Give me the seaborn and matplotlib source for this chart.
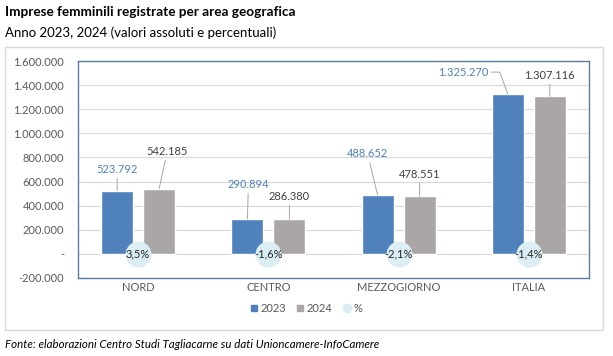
import matplotlib
matplotlib.use('Agg')
import matplotlib.pyplot as plt
from matplotlib.patches import Rectangle
from matplotlib.lines import Line2D
from matplotlib.ticker import FuncFormatter, MultipleLocator
import seaborn as sns
import pandas as pd

# dati
aree = ['NORD', 'CENTRO', 'MEZZOGIORNO', 'ITALIA']
anni = ['2023', '2024']
valori_2023 = [523792, 290894, 488652, 1325270]
valori_2024 = [542185, 286380, 478551, 1307116]
var_pct = [3.5, -1.6, -2.1, -1.4]

df = pd.DataFrame({
    'area': aree * 2,
    'anno': [anni[0]] * len(aree) + [anni[1]] * len(aree),
    'valore': valori_2023 + valori_2024,
})

blu = '#4F81BD'
grigio = '#AAA6A6'
azzurro = '#DAEEF3'
testo = '#404040'

# spostamento etichette (pixel) rispetto alla cima della barra
offs = {
    '2023': [(0, 21), (1, 34), (-10, 41), (-45, 22)],
    '2024': [(8, 37), (0, 23), (0, 22), (0, 21)],
}

sns.set_theme(style='white')
plt.rcParams['font.family'] = ['Lato', 'DejaVu Sans']

W, H = 613, 356
fig = plt.figure(figsize=(W / 100, H / 100), dpi=100)
ax = fig.add_axes([78 / W, (H - 278) / H, (589 - 78) / W, (278 - 61) / H])

sns.barplot(data=df, x='area', y='valore', hue='anno', palette=[blu, grigio],
            width=0.645, gap=0.24, saturation=1, legend=False, ax=ax, zorder=2)

ax.set_ylim(-200000, 1600000)
ax.yaxis.set_major_locator(MultipleLocator(200000))
ax.yaxis.set_major_formatter(FuncFormatter(
    lambda v, p: '-' if v == 0 else f'{v:,.0f}'.replace(',', '.')))
ax.grid(axis='y', color='#D9D9D9', lw=0.8, zorder=0)
ax.set_axisbelow(True)
ax.set_xlabel('')
ax.set_ylabel('')
for s in ax.spines.values():
    s.set_color('#5A7CA0')
    s.set_linewidth(1)
ax.tick_params(axis='y', length=0, pad=10, labelsize=8, labelcolor='#595959')
ax.tick_params(axis='x', length=0, pad=3, labelsize=8, labelcolor='#595959')

# etichette valori con linee guida
for anno, cont in zip(anni, ax.containers):
    col = blu if anno == '2023' else testo
    for bar, (dx, dy) in zip(cont, offs[anno]):
        xb = bar.get_x() + bar.get_width() / 2
        yb = bar.get_height()
        lab = f'{yb:,.0f}'.replace(',', '.')
        if dx < -30:
            ap = dict(arrowstyle='-', color='#A6A6A6', lw=0.7, shrinkA=0, shrinkB=0,
                      relpos=(1, 0.5), connectionstyle='angle,angleA=0,angleB=110,rad=0')
        else:
            ap = dict(arrowstyle='-', color='#A6A6A6', lw=0.7, shrinkA=0, shrinkB=0)
        ax.annotate(lab, xy=(xb, yb), xytext=(dx, dy), textcoords='offset pixels',
                    ha='center', va='center', fontsize=8, color=col,
                    arrowprops=ap, zorder=4)

# cerchi variazione %
ax.scatter(range(len(aree)), [0] * len(aree), s=350, color=azzurro, zorder=3,
           linewidths=0)
for i, p in enumerate(var_pct):
    ax.text(i, 0, f'{p:.1f}%'.replace('.', ','), ha='center', va='center',
            fontsize=8, color='#262626', zorder=4)

# legenda
handles = [
    Line2D([], [], marker='s', ls='', color=blu, markersize=5),
    Line2D([], [], marker='s', ls='', color=grigio, markersize=5),
    Line2D([], [], marker='o', ls='', color=azzurro, markersize=6),
]
fig.legend(handles, ['2023', '2024', '%'], loc='center', ncol=3, frameon=False,
           bbox_to_anchor=(0.5, (H - 308) / H), handlelength=0.6, handletextpad=0.3,
           columnspacing=1.0, fontsize=8, labelcolor='#595959')

# cornice esterna
fig.patches.append(Rectangle((5 / W, (H - 330) / H), 598 / W, 283 / H,
                             transform=fig.transFigure, fill=False,
                             edgecolor='#D9D9D9', lw=1))

fig.text(5 / W, 1 - 12 / H, 'Imprese femminili registrate per area geografica',
         fontsize=9.8, fontweight='bold', color='black', va='center')
fig.text(5 / W, 1 - 33 / H, 'Anno 2023, 2024 (valori assoluti e percentuali)',
         fontsize=9.5, color='black', va='center')
fig.text(5 / W, 1 - 345 / H,
         'Fonte: elaborazioni Centro Studi Tagliacarne su dati Unioncamere-InfoCamere',
         fontsize=8.3, style='italic', color='black', va='center')

fig.savefig('out.png', dpi=100)
